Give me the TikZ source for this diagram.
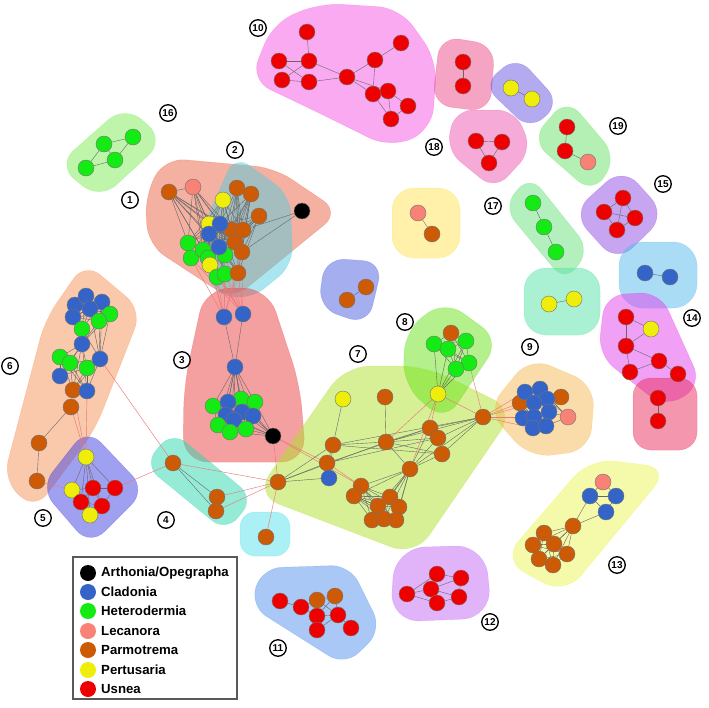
\documentclass[tikz,border=0pt]{standalone}
\usepackage{fontspec}
\setmainfont{Liberation Sans}
\definecolor{cA}{RGB}{0,0,0}
\definecolor{cC}{RGB}{52,100,200}
\definecolor{cH}{RGB}{20,235,20}
\definecolor{cL}{RGB}{248,130,118}
\definecolor{cP}{RGB}{205,90,5}
\definecolor{cY}{RGB}{238,238,10}
\definecolor{cU}{RGB}{238,0,0}
\definecolor{cE}{RGB}{235,120,120}
\definecolor{h1c}{RGB}{233,97,65}
\definecolor{h2c}{RGB}{85,205,225}
\definecolor{h3c}{RGB}{235,65,65}
\definecolor{h4c}{RGB}{45,215,175}
\definecolor{h5c}{RGB}{65,65,225}
\definecolor{h6c}{RGB}{245,145,85}
\definecolor{h7c}{RGB}{175,225,45}
\definecolor{h8c}{RGB}{105,225,25}
\definecolor{h9c}{RGB}{245,185,85}
\definecolor{h10c}{RGB}{245,85,225}
\definecolor{hpk}{RGB}{235,75,135}
\definecolor{hpu}{RGB}{105,85,225}
\definecolor{h18c}{RGB}{235,85,175}
\definecolor{h19c}{RGB}{105,225,105}
\definecolor{h15c}{RGB}{145,75,225}
\definecolor{h17c}{RGB}{105,225,125}
\definecolor{hag}{RGB}{85,225,165}
\definecolor{hlb}{RGB}{85,185,235}
\definecolor{h14c}{RGB}{225,65,235}
\definecolor{hsp}{RGB}{235,45,95}
\definecolor{h13c}{RGB}{235,245,85}
\definecolor{h12c}{RGB}{195,105,245}
\definecolor{h11c}{RGB}{85,145,235}
\definecolor{hcy}{RGB}{85,225,235}
\definecolor{hye}{RGB}{255,225,85}
\definecolor{hbl}{RGB}{75,95,225}
\definecolor{h16c}{RGB}{125,235,85}
\pgfdeclarelayer{hulls}
\pgfdeclarelayer{edges}
\pgfsetlayers{hulls,edges,main}
\newcommand\hull[3][20]{\begin{pgfonlayer}{hulls}\filldraw[hullst,fill=#2,draw=#2,rounded corners=#1pt] #3;\end{pgfonlayer}}
\newcommand\eds[3]{\begin{pgfonlayer}{edges}\foreach \a in {#2}{\foreach \b in {#3}{\draw[#1] (\a) -- (\b);}}\end{pgfonlayer}}
\begin{document}
\begin{tikzpicture}[x=1pt,y=-1pt,
  nd/.style={circle,draw=black!55,line width=0.4pt,minimum size=16pt,inner sep=0pt},
  nA/.style={nd,fill=cA}, nC/.style={nd,fill=cC}, nH/.style={nd,fill=cH},
  nL/.style={nd,fill=cL}, nP/.style={nd,fill=cP}, nY/.style={nd,fill=cY}, nU/.style={nd,fill=cU},
  eg/.style={draw=black!60,line width=0.4pt},
  er/.style={draw=cE,line width=0.45pt},
  lab/.style={circle,draw,line width=1.3pt,minimum size=16.5pt,inner sep=0pt,font=\bfseries\fontsize{10}{10}\selectfont},
  lgt/.style={anchor=west,inner sep=0pt,font=\bfseries\fontsize{13.2}{14}\selectfont},
  hullst/.style={fill opacity=0.5,draw opacity=0.3,line width=0.5pt}]
\useasboundingbox (0,0) rectangle (709,707);
% ---------- hulls ----------
\hull[22]{h16c}{(125,105)--(165,140)--(100,200)--(57,165)--cycle}
\hull[20]{h1c}{(145,195)--(165,158)--(275,168)--(340,212)--(232,300)--(148,245)--cycle}
\hull[18]{h2c}{(235,155)--(290,195)--(293,265)--(250,300)--(210,292)--(204,225)--cycle}
\hull[25]{h3c}{(205,288)--(268,288)--(300,385)--(306,462)--(183,462)--(184,385)--cycle}
\hull[20]{h6c}{(85,262)--(142,310)--(95,430)--(35,510)--(3,480)--(45,320)--cycle}
\hull[20]{h5c}{(87,428)--(146,490)--(90,546)--(40,488)--cycle}
\hull[18]{h4c}{(144,465)--(172,431)--(254,498)--(226,532)--cycle}
\hull[15]{hcy}{(240,512) rectangle (290,556)}
\hull[25]{h7c}{(255,495)--(345,366)--(425,366)--(515,410)--(415,556)--cycle}
\hull[22]{h8c}{(445,300)--(500,340)--(445,422)--(403,385)--(405,330)--cycle}
\hull[22]{h9c}{(530,357)--(595,385)--(590,450)--(530,458)--(487,410)--cycle}
\hull[22]{h10c}{(273,23)--(320,3)--(400,8)--(437,60)--(432,130)--(390,148)--(313,110)--(250,80)--cycle}
\hull[20]{hpk}{(440,36)--(495,45)--(490,112)--(432,105)--cycle}
\hull[18]{hpu}{(517,56)--(560,103)--(530,130)--(483,85)--cycle}
\hull[18]{h18c}{(455,110)--(515,110)--(532,150)--(495,190)--(446,150)--cycle}
\hull[20]{h19c}{(567,98)--(617,157)--(593,194)--(531,140)--cycle}
\hull[22]{h15c}{(623,167)--(666,215)--(617,263)--(572,213)--cycle}
\hull[18]{h17c}{(530,175)--(590,250)--(565,282)--(503,207)--cycle}
\hull[22]{hag}{(524,268) rectangle (600,335)}
\hull[24]{hlb}{(619,242) rectangle (697,308)}
\hull[20]{h14c}{(605,295)--(660,292)--(702,385)--(665,408)--(598,355)--cycle}
\hull[18]{hsp}{(633,378) rectangle (697,450)}
\hull[25]{h13c}{(590,458)--(670,468)--(565,595)--(502,560)--cycle}
\hull[30]{h12c}{(395,548)--(485,545)--(492,618)--(390,622)--cycle}
\hull[19]{h11c}{(262,568)--(350,565)--(382,630)--(345,666)--(250,606)--cycle}
\hull[22]{hye}{(392,188) rectangle (460,258)}
\hull[20]{hbl}{(325,258)--(383,262)--(368,325)--(318,308)--cycle}
% ---------- nodes ----------
% cluster 16
\node[nH] (e1) at (104,144) {}; \node[nH] (e2) at (133,137) {};
\node[nH] (e3) at (115,160) {}; \node[nH] (e4) at (86,168) {};
% clusters 1/2
\node[nP] (t1) at (169,192) {}; \node[nL] (t2) at (193,187) {};
\node[nY] (t3) at (223,200) {}; \node[nP] (t4) at (237,188) {};
\node[nP] (t5) at (251,194) {}; \node[nP] (t6) at (259,216) {};
\node[nA] (t7) at (302,211) {};
\node[nP] (t12) at (232,230) {}; \node[nP] (t13) at (243,230) {};
\node[nP] (t14) at (235,242) {}; \node[nP] (t15) at (242,252) {};
\node[nY] (t8) at (209,224) {};
\node[nH] (t16) at (188,243) {}; \node[nH] (t17) at (191,258) {};
\node[nH] (t18) at (203,250) {}; \node[nH] (t19) at (208,258) {};
\node[nH] (t20) at (225,255) {};
\node[nC] (t9) at (220,224) {}; \node[nC] (t10) at (209,234) {};
\node[nC] (t11) at (219,247) {};
\node[nY] (t21) at (210,265) {};
\node[nH] (t22) at (217,277) {}; \node[nH] (t23) at (225,274) {};
\node[nP] (t24) at (238,273) {};
% bridge / cluster 3
\node[nC] (b1) at (224,317) {}; \node[nC] (b2) at (243,314) {};
\node[nC] (b3) at (235,367) {};
\node[nH] (u1) at (213,406) {}; \node[nH] (u3) at (241,399) {};
\node[nH] (u4) at (255,402) {};
\node[nC] (u2) at (228,402) {}; \node[nC] (u5) at (226,415) {};
\node[nC] (u6) at (242,412) {}; \node[nC] (u7) at (253,416) {};
\node[nC] (u8) at (234,420) {};
\node[nH] (u9) at (218,425) {}; \node[nH] (u10) at (230,432) {};
\node[nH] (u11) at (246,429) {};
\node[nA] (u12) at (273,436) {};
% cluster 6
\node[nC] (s1) at (75,305) {}; \node[nC] (s2) at (86,296) {};
\node[nC] (s3) at (102,302) {}; \node[nC] (s4) at (73,317) {};
\node[nC] (s5) at (90,309) {};
\node[nH] (s6) at (110,314) {}; \node[nH] (s7) at (99,321) {};
\node[nH] (s8) at (82,329) {};
\node[nC] (s9) at (82,344) {};
\node[nH] (s10) at (60,357) {}; \node[nH] (s11) at (70,363) {};
\node[nH] (s12) at (87,368) {};
\node[nC] (s13) at (100,359) {}; \node[nC] (s14) at (60,376) {};
\node[nP] (s15) at (73,390) {}; \node[nC] (s16) at (87,391) {};
\node[nP] (s17) at (71,407) {}; \node[nP] (s18) at (39,443) {};
\node[nP] (s19) at (37,481) {};
% cluster 5
\node[nY] (f1) at (86,457) {}; \node[nY] (f2) at (72,490) {};
\node[nU] (f3) at (93,488) {}; \node[nU] (f4) at (115,488) {};
\node[nU] (f5) at (81,502) {}; \node[nU] (f6) at (102,506) {};
\node[nY] (f7) at (90,515) {};
% cluster 4
\node[nP] (g1) at (173,463) {}; \node[nP] (g2) at (217,497) {};
\node[nP] (g3) at (216,511) {};
\node[nP] (g4) at (278,482) {}; \node[nP] (g5) at (266,537) {};
% cluster 7
\node[nY] (h1) at (343,399) {}; \node[nP] (h2) at (385,397) {};
\node[nP] (h3) at (333,445) {}; \node[nP] (h4) at (386,442) {};
\node[nP] (h5) at (430,428) {}; \node[nP] (h6) at (438,438) {};
\node[nP] (h7) at (442,454) {}; \node[nP] (h8) at (327,463) {};
\node[nC] (h9) at (329,478) {}; \node[nP] (h10) at (410,469) {};
\node[nP] (h11) at (361,486) {}; \node[nP] (h12) at (354,496) {};
\node[nP] (h13) at (390,497) {}; \node[nP] (h14) at (378,506) {};
\node[nP] (h15) at (399,507) {}; \node[nP] (h16) at (372,520) {};
\node[nP] (h17) at (384,519) {}; \node[nP] (h18) at (396,520) {};
\node[nP] (h19) at (483,417) {}; \node[nY] (h20) at (438,394) {};
% cluster 8
\node[nH] (k1) at (434,344) {}; \node[nP] (k2) at (451,333) {};
\node[nH] (k3) at (448,349) {}; \node[nH] (k4) at (466,341) {};
\node[nH] (k5) at (469,363) {}; \node[nH] (k6) at (456,369) {};
% cluster 9
\node[nP] (m1) at (520,403) {}; \node[nP] (m2) at (561,397) {};
\node[nL] (m3) at (568,417) {};
\node[nC] (m4) at (525,392) {}; \node[nC] (m5) at (540,389) {};
\node[nC] (m6) at (547,399) {}; \node[nC] (m7) at (534,403) {};
\node[nC] (m8) at (549,412) {}; \node[nC] (m9) at (523,418) {};
\node[nC] (m10) at (534,417) {}; \node[nC] (m11) at (533,428) {};
\node[nC] (m12) at (546,426) {};
% small hulls
\node[nP] (n1) at (347,300) {}; \node[nP] (n2) at (366,287) {};
\node[nL] (p1) at (418,213) {}; \node[nP] (p2) at (432,234) {};
\node[nU] (q1) at (463,62) {}; \node[nU] (q2) at (463,86) {};
\node[nY] (q3) at (511,88) {}; \node[nY] (q4) at (532,99) {};
\node[nU] (r1) at (476,141) {}; \node[nU] (r2) at (502,142) {};
\node[nU] (r3) at (489,163) {};
\node[nU] (w1) at (567,127) {}; \node[nU] (w2) at (565,151) {};
\node[nL] (w3) at (588,162) {};
\node[nU] (x1) at (623,198) {}; \node[nU] (x2) at (604,212) {};
\node[nU] (x3) at (635,218) {}; \node[nU] (x4) at (617,230) {};
\node[nH] (y1) at (533,203) {}; \node[nH] (y2) at (544,227) {};
\node[nH] (y3) at (556,252) {};
\node[nY] (z1) at (549,304) {}; \node[nY] (z2) at (574,299) {};
\node[nC] (z3) at (645,273) {}; \node[nC] (z4) at (670,277) {};
% cluster 14
\node[nU] (v1) at (626,317) {}; \node[nY] (v2) at (651,329) {};
\node[nU] (v3) at (626,346) {}; \node[nU] (v4) at (630,372) {};
\node[nU] (v5) at (659,361) {}; \node[nU] (v6) at (678,374) {};
\node[nU] (v7) at (658,398) {}; \node[nU] (v8) at (658,421) {};
% cluster 13
\node[nL] (l1) at (603,482) {}; \node[nC] (l2) at (590,496) {};
\node[nC] (l3) at (616,496) {}; \node[nC] (l4) at (606,512) {};
\node[nP] (o1) at (573,526) {}; \node[nP] (o2) at (544,533) {};
\node[nP] (o3) at (533,545) {}; \node[nP] (o4) at (554,544) {};
\node[nP] (o5) at (567,554) {}; \node[nP] (o6) at (539,559) {};
\node[nP] (o7) at (553,565) {};
% cluster 10
\node[nU] (d1) at (307,32) {}; \node[nU] (d2) at (279,61) {};
\node[nU] (d3) at (309,61) {}; \node[nU] (d4) at (282,80) {};
\node[nU] (d5) at (309,82) {}; \node[nU] (d6) at (347,77) {};
\node[nU] (d7) at (375,60) {}; \node[nU] (d8) at (401,43) {};
\node[nU] (d9) at (373,94) {}; \node[nU] (d10) at (388,91) {};
\node[nU] (d11) at (408,106) {}; \node[nU] (d12) at (391,119) {};
% cluster 11
\node[nU] (i1) at (280,601) {}; \node[nU] (i2) at (301,607) {};
\node[nP] (i3) at (317,600) {}; \node[nP] (i4) at (335,596) {};
\node[nU] (i5) at (317,616) {}; \node[nU] (i6) at (338,615) {};
\node[nU] (i7) at (317,630) {}; \node[nU] (i8) at (351,628) {};
% cluster 12
\node[nU] (j1) at (407,594) {}; \node[nU] (j2) at (437,574) {};
\node[nU] (j3) at (461,578) {}; \node[nU] (j4) at (431,589) {};
\node[nU] (j5) at (459,597) {}; \node[nU] (j6) at (437,603) {};
% ---------- edges ----------
\eds{eg}{e1}{e2,e4,e3}
\eds{eg}{e3}{e2,e4}
\eds{eg}{t1,t2}{t8,t9,t10,t11,t16,t18,t19,t12,t14}
\eds{eg}{t1}{t2}
\eds{eg}{t3}{t8,t9,t10,t11,t12,t13,t14,t20,t16}
\eds{eg}{t4,t5,t6}{t12,t13,t14,t15,t24,t9,t11,t20}
\eds{eg}{t7}{t13,t15}
\eds{eg}{t8,t9,t10,t11}{t12,t13,t14,t15,t16,t17,t18,t19,t20,t21,t22,t23,t24}
\eds{er}{t17,t19,t21,t22,t23,t24,t15,t20}{b1,b2}
\eds{eg}{b1,b2}{b3}
\eds{eg}{b3}{u1,u2,u3,u4,u5,u6,u7,u8,u9,u10,u11}
\eds{eg}{u12}{u3,u4,u6,u7,u8,u10,u11,u5}
\eds{eg}{u1,u2,u3,u4}{u5,u6,u7,u8,u9,u10,u11}
\eds{er}{u12}{g4,h8,h11}
\eds{eg}{s1,s2,s3,s4,s5}{s1,s2,s3,s4,s5,s6,s7,s8}
\eds{eg}{s6,s7,s8}{s9,s13}
\eds{eg}{s9}{s10,s11,s12,s14,s16,s15}
\eds{eg}{s13}{s3,s5,s11,s12,s16,s15}
\eds{eg}{s10,s11,s12}{s14,s15,s16}
\eds{eg}{s15}{s16,s17}
\eds{eg}{s17}{s18}
\eds{eg}{s18}{s19}
\eds{er}{s15,s16,s17}{f1}
\eds{er}{s19}{f2}
\eds{er}{s13}{g1}
\eds{eg}{f1}{f2,f3,f4,f5,f6,f7}
\eds{eg}{f3}{f2,f4,f5,f6}
\eds{eg}{f6}{f4,f5,f7}
\eds{eg}{f5}{f7,f2}
\eds{er}{f4}{g1}
\eds{eg}{g1}{g2,g3}
\eds{eg}{g2}{g3}
\eds{er}{g1,g2,g3}{g4}
\eds{er}{g4}{g5}
\eds{eg}{g4}{h3,h8,h9,h4}
\eds{eg}{h1}{h3}
\eds{eg}{h2}{h4}
\eds{eg}{h3}{h4,h8,h9,h19,h7}
\eds{eg}{h8}{h9,h5,h6}
\eds{eg}{h4}{h5,h6,h7,h10,h19}
\eds{eg}{h10}{h5,h6,h7,h19,h11,h12,h13,h14,h15,h16,h17,h18}
\eds{eg}{h11,h12,h13,h14}{h12,h13,h14,h15,h16,h17,h18}
\eds{eg}{h5,h6,h7}{h19}
\eds{er}{h20}{h4,h10,h5,h19}
\eds{er}{h8}{h11}
\eds{eg}{h20}{k1,k3,k4,k5,k6}
\eds{er}{h19}{k5}
\eds{eg}{k1,k2,k3}{k2,k3,k4,k5,k6}
\eds{eg}{k4}{k5,k6}
\eds{er}{h19}{m1,m4,m7,m9,m10,m11}
\eds{eg}{m1}{m4,m7,m9,m10}
\eds{eg}{m2,m3}{m6,m8,m12,m5}
\eds{eg}{n1}{n2}
\eds{eg}{p1}{p2}
\eds{eg}{q1}{q2}
\eds{eg}{q3}{q4}
\eds{eg}{r1}{r2,r3}
\eds{eg}{r2}{r3}
\eds{eg}{w2}{w1,w3}
\eds{eg}{x1}{x2,x3,x4}
\eds{eg}{x4}{x2,x3}
\eds{eg}{x2}{x3}
\eds{eg}{y2}{y1,y3}
\eds{eg}{z1}{z2}
\eds{eg}{z3}{z4}
\eds{eg}{v1}{v2,v3}
\eds{eg}{v3}{v2,v4,v5}
\eds{eg}{v5}{v4,v6}
\eds{eg}{v7}{v8}
\eds{eg}{l1}{l2,l3}
\eds{eg}{l4}{l2,l3,o1}
\eds{eg}{l2}{l3,o1}
\eds{eg}{o1}{o2,o3,o4,o5,o6,o7}
\eds{eg}{o2,o3,o4}{o3,o4,o5,o6,o7}
\eds{eg}{o5,o6}{o6,o7}
\eds{eg}{d3}{d1,d2,d4,d6}
\eds{eg}{d5}{d2,d4,d6}
\eds{eg}{d6}{d7,d9,d10}
\eds{eg}{d7}{d8,d9}
\eds{eg}{d12}{d9,d10,d11}
\eds{eg}{d10}{d11,d9}
\eds{eg}{i2}{i1,i3,i5}
\eds{eg}{i3}{i4,i5,i6}
\eds{eg}{i4}{i5,i6}
\eds{eg}{i5}{i6,i7}
\eds{eg}{i6}{i7,i8}
\eds{eg}{j1}{j2,j4,j6}
\eds{eg}{j4}{j2,j3,j5,j6}
\eds{eg}{j6}{j5}
\eds{eg}{j3}{j2,j5}
% ---------- labels ----------
\node[lab] (L1) at (130,200) {1};
\node[lab] (L2) at (235,150) {2};
\node[lab] (L3) at (182,360) {3};
\node[lab] (L4) at (166,520) {4};
\node[lab] (L5) at (43,518) {5};
\node[lab] (L6) at (10,366) {6};
\node[lab] (L7) at (358,354) {7};
\node[lab] (L8) at (405,322) {8};
\node[lab] (L9) at (530,347) {9};
\node[lab] (L10) at (258,28) {10};
\node[lab] (L11) at (278,648) {11};
\node[lab] (L12) at (490,622) {12};
\node[lab] (L13) at (617,565) {13};
\node[lab] (L14) at (692,318) {14};
\node[lab] (L15) at (663,184) {15};
\node[lab] (L16) at (168,113) {16};
\node[lab] (L17) at (493,206) {17};
\node[lab] (L18) at (434,147) {18};
\node[lab] (L19) at (618,126) {19};
% ---------- legend ----------
\draw[draw=black!65,line width=1.2pt,fill=white] (73,557) rectangle (237,699);
\node[nd,fill=cA,draw=none] (g-a) at (88,573) {}; \node[lgt] (t-a) at (101,573) {Arthonia/Opegrapha};
\node[nd,fill=cC,draw=none] (g-c) at (88,592) {}; \node[lgt] (t-c) at (101,592) {Cladonia};
\node[nd,fill=cH,draw=none] (g-h) at (88,611) {}; \node[lgt] (t-h) at (101,611) {Heterodermia};
\node[nd,fill=cL,draw=none] (g-l) at (88,631) {}; \node[lgt] (t-l) at (101,631) {Lecanora};
\node[nd,fill=cP,draw=none] (g-p) at (88,650) {}; \node[lgt] (t-p) at (101,650) {Parmotrema};
\node[nd,fill=cY,draw=none] (g-y) at (88,670) {}; \node[lgt] (t-y) at (101,670) {Pertusaria};
\node[nd,fill=cU,draw=none] (g-u) at (88,689) {}; \node[lgt] (t-u) at (101,689) {Usnea};
\end{tikzpicture}
\end{document}
